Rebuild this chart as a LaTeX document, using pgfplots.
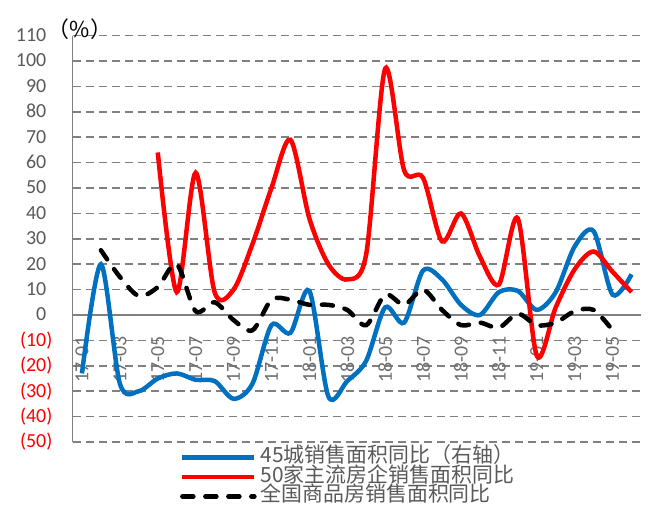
\documentclass[border=0pt]{standalone}
\usepackage{pgfplots}
\pgfplotsset{compat=1.18}
\usepackage{fontspec}
\setmainfont{Carlito}
\newfontfamily\cjk{Noto Sans CJK SC}
\definecolor{exblue}{RGB}{0,112,192}
\definecolor{gridgray}{RGB}{128,128,128}
\definecolor{labgray}{RGB}{89,89,89}
\definecolor{xgray}{RGB}{110,110,110}
\begin{document}
\begin{tikzpicture}
\path[use as bounding box] (-72.5bp,-64bp) rectangle (583.5bp,442bp);
\begin{axis}[
  at={(0,0)}, anchor=south west,
  scale only axis, width=568.5bp, height=406.4bp,
  xmin=-0.5, xmax=29.5, ymin=-50, ymax=110,
  axis x line=middle, axis y line=left,
  hide obscured x ticks=false, hide obscured y ticks=false,
  axis line style={-, draw=gridgray, line width=1.5bp},
  major tick length=0pt,
  ytick={-50,-40,...,110},
  yticklabels={\textcolor{red}{(50)},\textcolor{red}{(40)},\textcolor{red}{(30)},\textcolor{red}{(20)},\textcolor{red}{(10)},0\phantom{)},10\phantom{)},20\phantom{)},30\phantom{)},40\phantom{)},50\phantom{)},60\phantom{)},70\phantom{)},80\phantom{)},90\phantom{)},100\phantom{)},110\phantom{)}},
  yticklabel style={font=\fontsize{20}{20}\selectfont, text=labgray, anchor=east, inner sep=0pt, xshift=-20bp},
  xtick={0,2,...,28},
  xticklabels={17-01,17-03,17-05,17-07,17-09,17-11,18-01,18-03,18-05,18-07,18-09,18-11,19-01,19-03,19-05},
  xticklabel style={font=\fontsize{20}{20}\selectfont, text=xgray, yshift=-21bp, rotate=90, anchor=east, inner sep=0pt},
  ymajorgrids,
  major grid style={draw=gridgray, line width=1.5bp, dash pattern=on 8bp off 5bp},
  legend style={at={(0.189,-0.014)}, anchor=north west, draw=none, fill=none,
    font=\cjk\fontsize{21}{21}\selectfont, text=labgray, row sep=0pt, inner sep=0pt,
    nodes={inner sep=0pt, text height=15bp, text depth=4.5bp}},
  legend cell align=left,
  legend image code/.code={\draw[#1] (0bp,0bp) -- (72bp,0bp);},
]
\addplot[exblue, line width=4.5bp, smooth] coordinates {
(0,-23) (1,20) (2,-27) (3,-30) (4,-25) (5,-23) (6,-25.5) (7,-26) (8,-33) (9,-27)
(10,-4) (11,-7) (12,9.5) (13,-32) (14,-26) (15,-18) (16,3) (17,-3) (18,17.5) (19,14)
(20,4) (21,0) (22,9) (23,9.5) (24,2) (25,9) (26,27) (27,33) (28,8) (29,16)};
\addlegendentry{\hspace{4bp}45城销售面积同比（右轴）}
\addplot[red, line width=4.5bp, smooth] coordinates {
(4,64) (5,9) (6,56) (7,9) (8,10) (9,28) (10,50) (11,69) (12,38) (13,20) (14,14)
(15,24) (16,97) (17,57) (18,54) (19,29) (20,40) (21,23) (22,12) (23,38) (24,-16)
(25,3) (26,18) (27,25) (28,17) (29,9)};
\addlegendentry{\hspace{4bp}50家主流房企销售面积同比}
\addplot[black, line width=4.5bp, smooth, line cap=round, dash pattern=on 11bp off 12bp] coordinates {
(1,25.5) (2,15) (3,7.5) (4,11) (5,20) (6,1.5) (7,5) (8,-2) (9,-6) (10,6) (11,6)
(12,4) (13,4) (14,2) (15,-4) (16,8) (17,4) (18,10) (19,2) (20,-4) (21,-3) (22,-5)
(23,0.5) (24,-4) (25,-3) (26,1.5) (27,2) (28,-6)};
\addlegendentry{\hspace{4bp}全国商品房销售面积同比}
\end{axis}
\node[font=\cjk\fontsize{22}{22}\selectfont, text=black] at (7.5bp,413bp) {（\%）};
\end{tikzpicture}
\end{document}
